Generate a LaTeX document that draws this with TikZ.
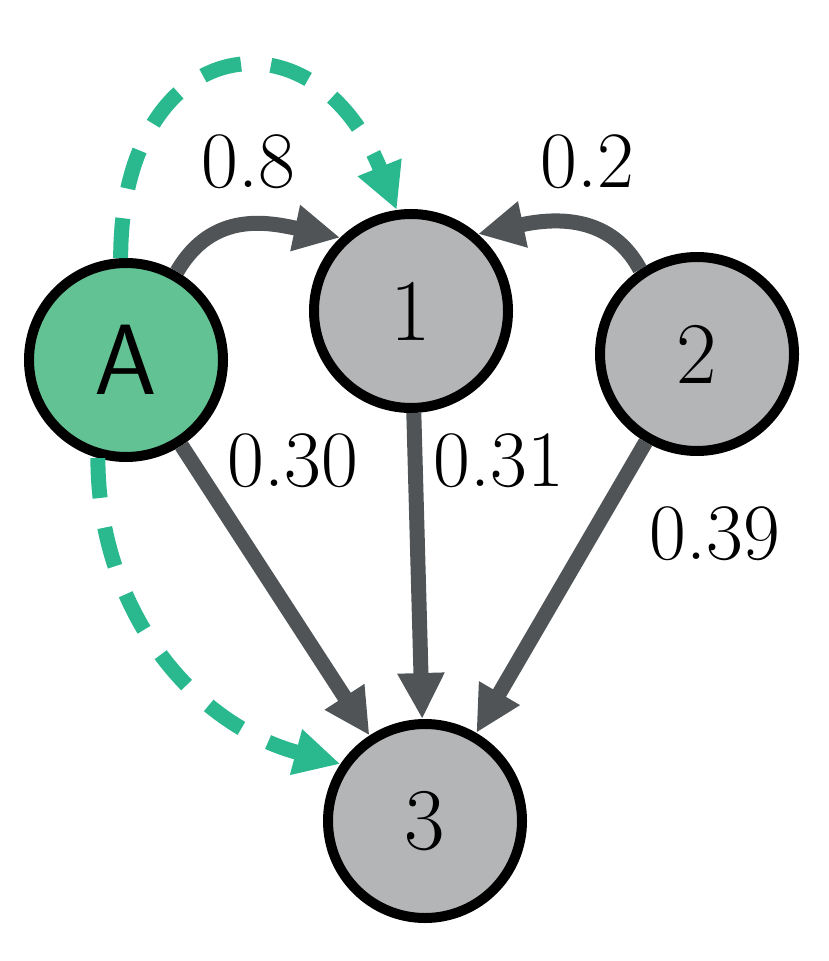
\documentclass[tikz,border=0pt]{standalone}
\usepackage{fontspec}
\usepackage{tikz}
\usetikzlibrary{arrows.meta}

\definecolor{nodegray}{RGB}{180,181,183}
\definecolor{edgegray}{RGB}{80,84,87}
\definecolor{agentgreen}{RGB}{99,194,147}
\definecolor{pathgreen}{RGB}{42,185,143}

\begin{document}
\begin{tikzpicture}[x=0.5pt, y=-0.5pt,
    state/.style={draw,
        circle,
        line width=5pt,
        minimum size=97pt,
        inner sep=0pt,
        fill=nodegray,
        font=\fontsize{44}{50}\selectfont
    },
    link/.style={draw=edgegray, line width=7.5pt,
        -{Triangle[length=23pt,width=22pt]}},
    route/.style={draw=pathgreen, line width=7.5pt,
        dash pattern=on 20pt off 15pt,
        -{Triangle[length=23pt,width=22pt]}},
    weight/.style={inner sep=0pt, font=\fontsize{40}{48}\selectfont}
]
    \useasboundingbox (0,0) rectangle (828,961);

    % agent
    \node[state,
        fill=agentgreen,
        font=\sffamily\fontsize{50}{60}\selectfont
    ] (nA) at (126,360) {A};

    % states
    \node[state] (n1) at (411,311) {1};
    \node[state] (n2) at (697,354) {2};
    \node[state] (n3) at (425,821) {3};

    % transitions
    \draw[link] (nA.60) to[out=60, in=168, looseness=1.1] (n1.134);
    \draw[link] (n2.124) to[out=118, in=12, looseness=1.05] (n1.49);
    \draw[link] (nA) -- (n3);
    \draw[link] (n1) -- (n3);
    \draw[link] (n2) -- (n3);

    % chosen moves
    \draw[route] (nA.93) to[out=90, in=112, looseness=2.05] (n1.98);
    \draw[route] (nA.254) to[out=270, in=165] (n3.146);

    % weights
    \node[weight] (w8) at (248,162) {0.8};
    \node[weight] (w2) at (587,162) {0.2};
    \node[weight] (w30) at (293,461) {0.30};
    \node[weight] (w31) at (499,461) {0.31};
    \node[weight] (w39) at (715,534) {0.39};

\end{tikzpicture}
\end{document}
